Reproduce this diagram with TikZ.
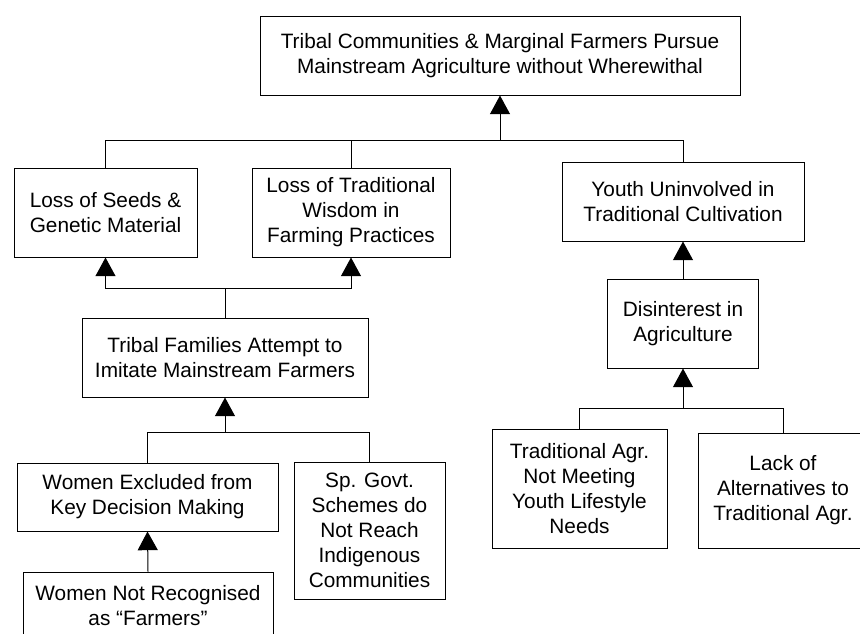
\documentclass[tikz,border=0pt]{standalone}
\usepackage{fontspec}
\setmainfont{Liberation Sans}
\usetikzlibrary{arrows.meta}

\begin{document}
\begin{tikzpicture}[x=0.75pt, y=-0.75pt,
	box/.style={draw, line width=0.75pt, align=center, inner sep=0pt,
		font=\fontsize{15.6}{18.75}\selectfont},
	sz/.style 2 args={minimum width=#1*0.75pt, minimum height=#2*0.75pt},
	link/.style={line width=0.75pt},
	arr/.style={link, -{Triangle[width=15pt, length=14pt]}}]
	\useasboundingbox (0,0) rectangle (860,633);

	\node[box, sz={480}{79}] (top) at (500, 55.5) {Tribal Communities \& Marginal Farmers Pursue\\Mainstream Agriculture without Wherewithal};

	\node[box, sz={183}{89}] (seeds) at (105.5, 212.5) {Loss of Seeds \&\\Genetic Material};
	\node[box, sz={198}{89}] (wisdom) at (351, 212.5) {Loss of Traditional\\Wisdom in\\Farming Practices};
	\node[box, sz={242}{79}] (youth) at (683, 201.5) {Youth Uninvolved in\\Traditional Cultivation};

	\node[box, sz={286}{79}] (imitate) at (225, 357.5) {Tribal Families Attempt to\\Imitate Mainstream Farmers};
	\node[box, sz={151}{89}] (disint) at (683, 323.5) {Disinterest in\\Agriculture};

	\node[box, sz={261}{68}] (womenex) at (147.5, 497) {Women Excluded from\\Key Decision Making};
	\node[box, sz={151}{137}] (schemes) at (369.5, 530.5) {Sp. Govt.\\Schemes do\\Not Reach\\Indigenous\\Communities};
	\node[box, sz={250}{68}] (womennot) at (148, 606) {Women Not Recognised\\as “Farmers”};

	\node[box, sz={175}{119}] (tradagr) at (579.5, 488.5) {Traditional Agr.\\Not Meeting\\Youth Lifestyle\\Needs};
	\node[box, sz={170}{115}] (lack) at (783, 490.5) {Lack of\\Alternatives to\\Traditional Agr.};

	% junction points of the connectors
	\coordinate (j1) at (500, 140);
	\coordinate (j2) at (225, 288);
	\coordinate (j3) at (225, 432);
	\coordinate (j4) at (683, 408);

	% Draw the connectors into the top box
	\draw[link] (seeds.north) |- (youth.north |- j1) -- (youth.north);
	\draw[link] (wisdom.north) -- (wisdom.north |- j1);
	\draw[arr] (j1) -- (top.south);

	% Draw the left branch
	\draw[link] (imitate.north) -- (j2);
	\draw[arr] (j2) -| (seeds.south);
	\draw[arr] (j2) -| (wisdom.south);
	\draw[link] (womenex.north) |- (schemes.north |- j3) -- (schemes.north);
	\draw[arr] (j3) -- (imitate.south);
	\draw[arr] (womennot.north) -- (womenex.south);

	% Draw the right branch
	\draw[arr] (disint.north) -- (youth.south);
	\draw[link] (tradagr.north) |- (lack.north |- j4) -- (lack.north);
	\draw[arr] (j4) -- (disint.south);
\end{tikzpicture}
\end{document}
